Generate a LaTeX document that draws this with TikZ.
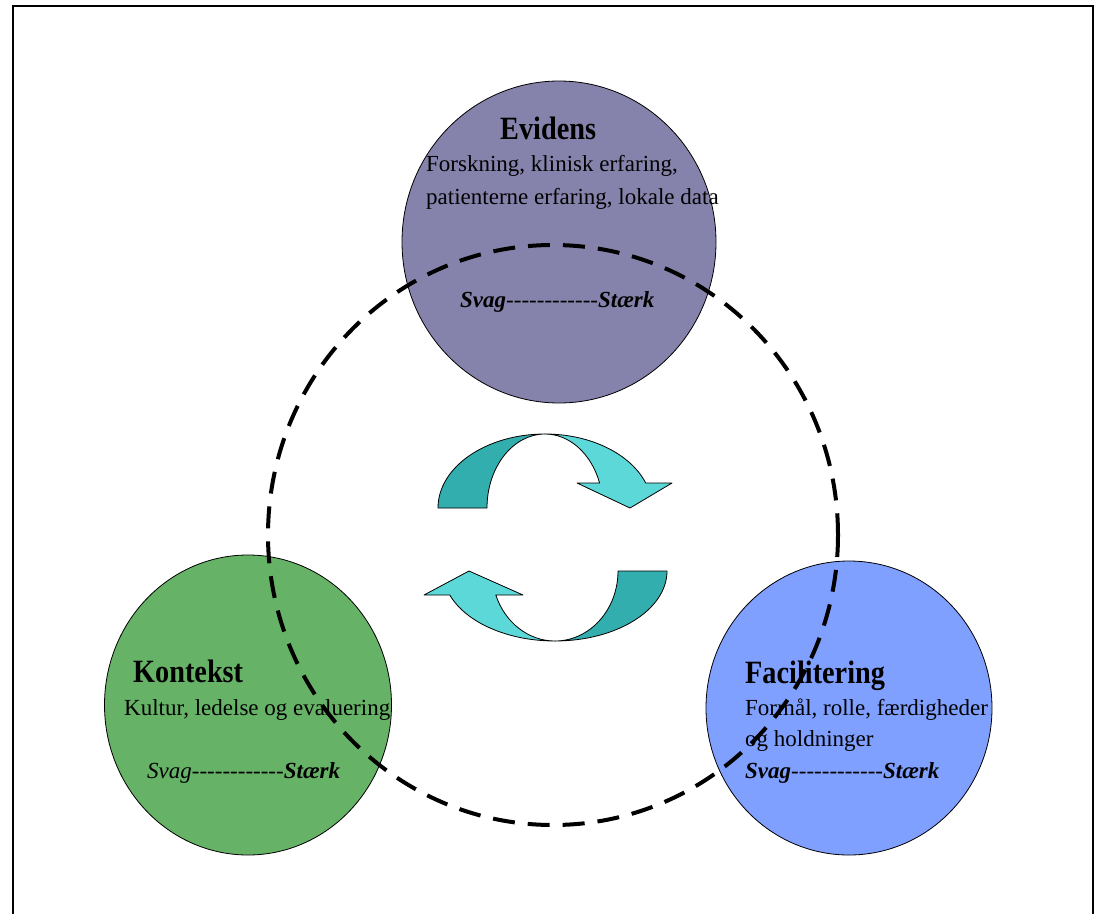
\documentclass[tikz,border=0pt]{standalone}
\usepackage{graphicx}
\usepackage{fontspec}
\setmainfont{Liberation Serif}
\usetikzlibrary{shapes.geometric}
\definecolor{evcol}{RGB}{133,131,171}
\definecolor{kocol}{RGB}{102,178,102}
\definecolor{facol}{RGB}{128,160,255}
\definecolor{tealdark}{RGB}{51,174,174}
\definecolor{teallight}{RGB}{92,216,216}
\newcommand\hyrow{-{}-{}-{}-{}-{}-{}-{}-{}-{}-{}-{}-{}}
\newcommand\hdtxt[1]{\scalebox{0.87}[1]{#1}}
\tikzset{
  bubble/.style={ellipse, draw=black, line width=0.8pt, inner sep=0pt},
  head/.style={anchor=base west, inner sep=0pt, font=\fontsize{32.5}{36}\selectfont\bfseries},
  body/.style={anchor=base west, inner sep=0pt, font=\fontsize{23}{27}\selectfont},
  arrowpart/.style={draw=black, line width=0.8pt, line join=round},
  cycle/.style={draw=black, line width=4pt, dash pattern=on 22pt off 13pt},
}
\begin{document}
\begin{tikzpicture}[x=1pt,y=-1pt]
\useasboundingbox (0,0) rectangle (1095,913);
\fill[white] (0,0) rectangle (1095,913);
\draw[line width=2pt] (13,930) -- (13,6) -- (1093,6) -- (1093,930);

% circles
\node[bubble, fill=evcol, minimum width=314pt, minimum height=322pt] (evidens) at (559,242) {};
\node[bubble, fill=kocol, minimum width=287pt, minimum height=300pt] (kontekst) at (248,705) {};
\node[bubble, fill=facol, minimum width=286pt, minimum height=294pt] (facil) at (849,708) {};

% texts
\node[head] (evh) at (500,139) {\hdtxt{Evidens}};
\node[body] (evb1) at (426,171) {Forskning, klinisk erfaring,};
\node[body] (evb2) at (426,204) {patienterne erfaring, lokale data};
\node[body] (evs) at (460,307) {\textbf{\textit{Svag}}\hyrow\textbf{\textit{Stærk}}};

\node[head] (koh) at (133,682) {\hdtxt{Kontekst}};
\node[body] (kob1) at (124,715) {Kultur, ledelse og evaluering};
\node[body] (kos) at (147,778) {\textit{Svag}\hyrow\textbf{\textit{Stærk}}};

\node[head] (fah) at (745,683) {\hdtxt{Facilitering}};
\node[body] (fab1) at (745,715) {Formål, rolle, færdigheder};
\node[body] (fab2) at (745,746) {og holdninger};
\node[body] (fas) at (745,778) {\textbf{\textit{Svag}}\hyrow\textbf{\textit{Stærk}}};

% top curved arrow
\fill[tealdark, arrowpart] (438,508) arc[start angle=180, end angle=270, x radius=107, y radius=74]
  arc[start angle=270, end angle=180, x radius=58, y radius=74] -- cycle;
\fill[teallight, arrowpart] (545,434) arc[start angle=270, end angle=340.25, x radius=107, y radius=74]
  -- (672,483) -- (630,508) -- (577,483) -- (599.6,483)
  arc[start angle=340.25, end angle=270, x radius=58, y radius=74] -- cycle;

% bottom curved arrow
\fill[tealdark, arrowpart] (667,571) arc[start angle=0, end angle=90, x radius=112, y radius=70]
  arc[start angle=90, end angle=0, x radius=63, y radius=70] -- cycle;
\fill[teallight, arrowpart] (555,641) arc[start angle=90, end angle=159.95, x radius=112, y radius=70]
  -- (424,595) -- (469,571) -- (523,595) -- (495.8,595)
  arc[start angle=159.95, end angle=90, x radius=63, y radius=70] -- cycle;

% dashed cycle
\draw[cycle] (553,535) ellipse[x radius=285, y radius=290];
\end{tikzpicture}
\end{document}
